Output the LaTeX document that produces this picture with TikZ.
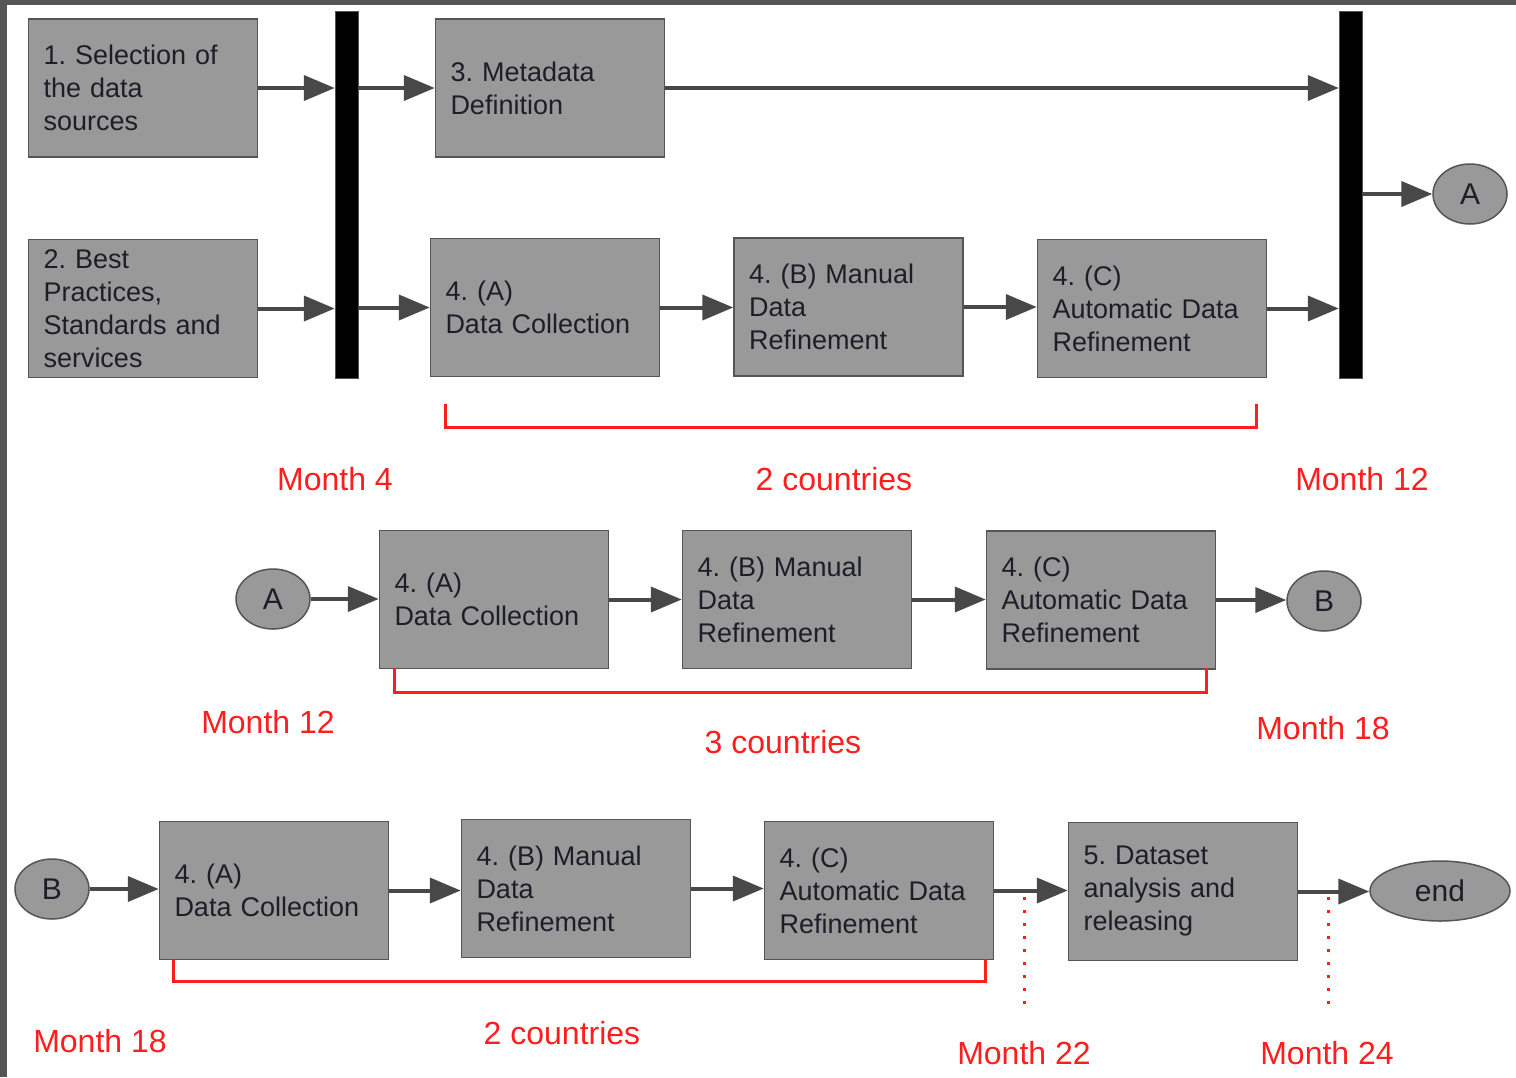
\documentclass[tikz,border=0pt]{standalone}
\usepackage{fontspec}
\setmainfont{Liberation Sans}
\usetikzlibrary{arrows.meta,shapes.geometric}
\definecolor{boxfill}{RGB}{153,153,153}
\definecolor{boxedge}{RGB}{85,85,85}
\definecolor{arrcol}{RGB}{72,72,72}
\definecolor{txt}{RGB}{30,30,40}
\definecolor{redc}{RGB}{255,30,30}
\definecolor{framec}{RGB}{85,85,85}
\frenchspacing
\begin{document}
\begin{tikzpicture}[x=1pt,y=-1pt,
 box/.style={draw=boxedge, fill=boxfill, line width=1.5pt, minimum height=138pt, text width=199pt, inner xsep=15pt, align=left, font=\frenchspacing\fontsize{27}{33}\selectfont, text=txt},
 bar/.style={fill=black, draw=boxedge, line width=0.5pt, minimum width=23pt, minimum height=367pt, inner sep=0pt},
 conn/.style={ellipse, draw=boxedge, fill=boxfill, line width=1.5pt, minimum width=74pt, minimum height=60pt, inner sep=0pt, font=\fontsize{30}{30}\selectfont, text=txt},
 arr/.style={draw=arrcol, line width=4pt, -{Triangle[length=31pt,width=25pt]}},
 lbl/.style={text=redc, font=\fontsize{32}{32}\selectfont, inner sep=0pt},
 brk/.style={draw=redc, line width=3pt},
 dotl/.style={draw=redc, line width=3pt, dash pattern=on 3pt off 10pt}
]
\useasboundingbox (0,0) rectangle (1516,1077);
\fill[white] (0,0) rectangle (1516,1077);
\fill[framec] (0,0) rectangle (1516,5);
\fill[framec] (0,0) rectangle (7,1077);

% ---- row 1
\node[box] (b1) at (143,88) {1. Selection of\\the data\\sources};
\node[box] (b2) at (143,308.5) {2. Best\\Practices,\\Standards and\\services};
\node[bar] (bar1) at (346.5,194.5) {};
\node[box] (b3) at (550,88) {3. Metadata\\Definition};
\node[box] (t4a) at (545,307.5) {4. (A)\\Data Collection};
\node[box] (t4b) at (848.5,307) {4. (B) Manual\\Data\\Refinement};
\node[box] (t4c) at (1152,308.5) {4. (C)\\Automatic Data\\Refinement};
\node[bar] (bar2) at (1350.5,194.5) {};
\node[conn] (A1) at (1470,194) {A};

\draw[arr] (b1.east) -- (b1.east -| bar1.west);
\draw[arr] (bar1.east |- b3.west) -- (b3.west);
\draw[arr] (b3.east) -- (b3.east -| bar2.west);
\draw[arr] (b2.east) -- (b2.east -| bar1.west);
\draw[arr] (bar1.east |- t4a.west) -- (t4a.west);
\draw[arr] (t4a.east) -- (t4a.east -| t4b.west);
\draw[arr] (t4b.east) -- (t4b.east -| t4c.west);
\draw[arr] (t4c.east) -- (t4c.east -| bar2.west);
\draw[arr] (bar2.east |- A1.west) -- (A1.west);

\draw[brk] (445,404) -- (445,427) -- (1256,427) -- (1256,404);
\node[lbl] (m4) at (335,479) {Month 4};
\node[lbl] (c2a) at (834,479) {2 countries};
\node[lbl] (m12a) at (1362,479) {Month 12};

% ---- row 2
\node[conn] (A2) at (273,599) {A};
\node[box] (r4a) at (494,599.5) {4. (A)\\Data Collection};
\node[box] (r4b) at (797,599.5) {4. (B) Manual\\Data\\Refinement};
\node[box] (r4c) at (1101,600) {4. (C)\\Automatic Data\\Refinement};
\node[conn] (B2) at (1324,601) {B};

\draw[arr] (A2.east) -- (A2.east -| r4a.west);
\draw[arr] (r4a.east) -- (r4a.east -| r4b.west);
\draw[arr] (r4b.east) -- (r4b.east -| r4c.west);
\draw[arr] (r4c.east) -- (r4c.east -| B2.west);

\draw[brk] (394,668) -- (394,692) -- (1206,692) -- (1206,668);
\node[lbl] (m12b) at (268,722) {Month 12};
\node[lbl] (c3) at (783,742) {3 countries};
\node[lbl] (m18a) at (1323,728) {Month 18};

% ---- row 3
\node[conn] (B3) at (52,889) {B};
\node[box] (s4a) at (274,890.5) {4. (A)\\Data Collection};
\node[box] (s4b) at (576,888.5) {4. (B) Manual\\Data\\Refinement};
\node[box] (s4c) at (879,890.5) {4. (C)\\Automatic Data\\Refinement};
\node[box] (s5) at (1183,891.5) {5. Dataset\\analysis and\\releasing};
\node[conn, minimum width=140pt] (end) at (1440,891) {end};

\draw[arr] (B3.east) -- (B3.east -| s4a.west);
\draw[arr] (s4a.east) -- (s4a.east -| s4b.west);
\draw[arr] (s4b.east) -- (s4b.east -| s4c.west);
\draw[arr] (s4c.east) -- (s4c.east -| s5.west);
\draw[arr] (s5.east) -- (s5.east -| end.west);

\draw[brk] (173,959) -- (173,981) -- (985,981) -- (985,959);
\draw[dotl] (1024,897) -- (1024,1012);
\draw[dotl] (1328,897) -- (1328,1012);
\node[lbl] (m18b) at (100,1041) {Month 18};
\node[lbl] (c2b) at (562,1033) {2 countries};
\node[lbl] (m22) at (1024,1053) {Month 22};
\node[lbl] (m24) at (1327,1053) {Month 24};
\end{tikzpicture}
\end{document}
